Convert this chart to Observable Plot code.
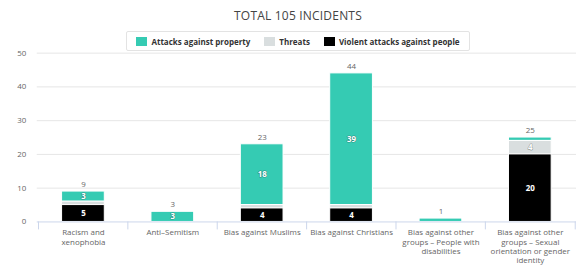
<!DOCTYPE html>
<html>
<head>
<meta charset="utf-8">
<script src="https://cdn.jsdelivr.net/npm/d3@7"></script>
<script src="https://cdn.jsdelivr.net/npm/@observablehq/plot@0.6"></script>
<style>
  html, body { margin: 0; padding: 0; background: #fff; }
  body { width: 576px; height: 266px; overflow: hidden; position: relative; font-family: "Open Sans", sans-serif; }
  #title { position: absolute; top: 7px; left: 298px; transform: translateX(-50%); font-size: 12px; color: #444; white-space: nowrap; letter-spacing: 0.2px; }
  #legend { position: absolute; left: 126px; top: 31px; width: 342px; height: 18px; border: 1px solid #e3e3e3; border-radius: 2px; background: #fff;
            display: flex; align-items: center; justify-content: center; gap: 14px; font-size: 8px; font-weight: 700; color: #333; }
  .item { display: flex; align-items: center; gap: 4px; white-space: nowrap; }
  .sw { width: 11px; height: 9px; display: inline-block; }
</style>
</head>
<body>
<div id="chart"></div>
<div id="title">TOTAL 105 INCIDENTS</div>
<div id="legend"></div>
<script>
const categories = [
  "Racism and xenophobia",
  "Anti-Semitism",
  "Bias against Muslims",
  "Bias against Christians",
  "Bias against other groups – People with disabilities",
  "Bias against other groups – Sexual orientation or gender identity"
];
const categoryLabels = [
  "Racism and\nxenophobia",
  "Anti–Semitism",
  "Bias against Muslims",
  "Bias against Christians",
  "Bias against other\ngroups – People with\ndisabilities",
  "Bias against other\ngroups – Sexual\norientation or gender\nidentity"
];
const seriesNames = ["Attacks against property", "Threats", "Violent attacks against people"];
const seriesColors = ["#35cbb3", "#d9dedf", "#000000"];
const property = [3, 3, 18, 39, 1, 1];
const threats = [1, 0, 1, 1, 0, 4];
const violent = [5, 0, 4, 4, 0, 20];
const yTicks = [0, 10, 20, 30, 40, 50];

const seriesValues = [property, threats, violent];
const data = [];
seriesNames.forEach((s, si) => categories.forEach((c, ci) => data.push({category: c, series: s, value: seriesValues[si][ci]})));
const totals = categories.map((c, i) => ({category: c, total: property[i] + threats[i] + violent[i]}));
const stackOrder = ["Violent attacks against people", "Threats", "Attacks against property"];

const W = 580, ML = 37, MR = 0, MT = 53, MB = 43, H = 266;
const step = (W - ML - MR) / categories.length;
const innerH = H - MT - MB;

const chart = Plot.plot({
  width: W, height: H,
  marginLeft: ML, marginRight: MR, marginTop: MT, marginBottom: MB,
  style: {fontFamily: "Open Sans, sans-serif", fontSize: "8px", background: "#fff", overflow: "visible"},
  x: {domain: categories, paddingInner: 0.525, paddingOuter: 0.2625, axis: null},
  y: {domain: [0, 50], axis: null},
  color: {domain: seriesNames, range: seriesColors},
  marks: [
    Plot.ruleY(yTicks.filter(d => d > 0), {stroke: "#e6e6e6"}),
    Plot.axisY({ticks: yTicks, tickSize: 0, tickPadding: 11, fill: "#666", fontSize: 8, label: null}),
    Plot.barY(data, Plot.stackY({order: stackOrder}, {x: "category", y: "value", fill: "series", stroke: "#fff", strokeWidth: 1})),
    Plot.text(data, Plot.stackY({order: stackOrder}, {x: "category", y: "value", z: "series",
      text: d => d.value > 1 ? String(d.value) : "", fill: "#fff", fontWeight: "bold", fontSize: 8,
      stroke: "#222", strokeWidth: 1.2, strokeOpacity: 0.35, paintOrder: "stroke"})),
    Plot.text(totals, {x: "category", y: "total", text: d => String(d.total), dy: -7, fill: "#666", fontSize: 8}),
    Plot.ruleY([0], {stroke: "#ccd6eb"}),
    Plot.ruleX(categories, {x: d => d, dx: -step / 2, insetTop: innerH, insetBottom: -8, stroke: "#ccd6eb"}),
    Plot.ruleX(categories.slice(-1), {x: d => d, dx: step / 2, insetTop: innerH, insetBottom: -8, stroke: "#ccd6eb"}),
    Plot.text(categories, {x: d => d, text: d => categoryLabels[categories.indexOf(d)], frameAnchor: "bottom",
      lineAnchor: "top", dy: 7, fill: "#666", fontSize: 8, lineHeight: 1.15})
  ]
});
document.getElementById("chart").appendChild(chart);

const legend = document.getElementById("legend");
seriesNames.forEach((s, i) => {
  const it = document.createElement("span");
  it.className = "item";
  const sw = document.createElement("span");
  sw.className = "sw";
  sw.style.background = seriesColors[i];
  it.appendChild(sw);
  it.appendChild(document.createTextNode(s));
  legend.appendChild(it);
});
</script>
</body>
</html>
